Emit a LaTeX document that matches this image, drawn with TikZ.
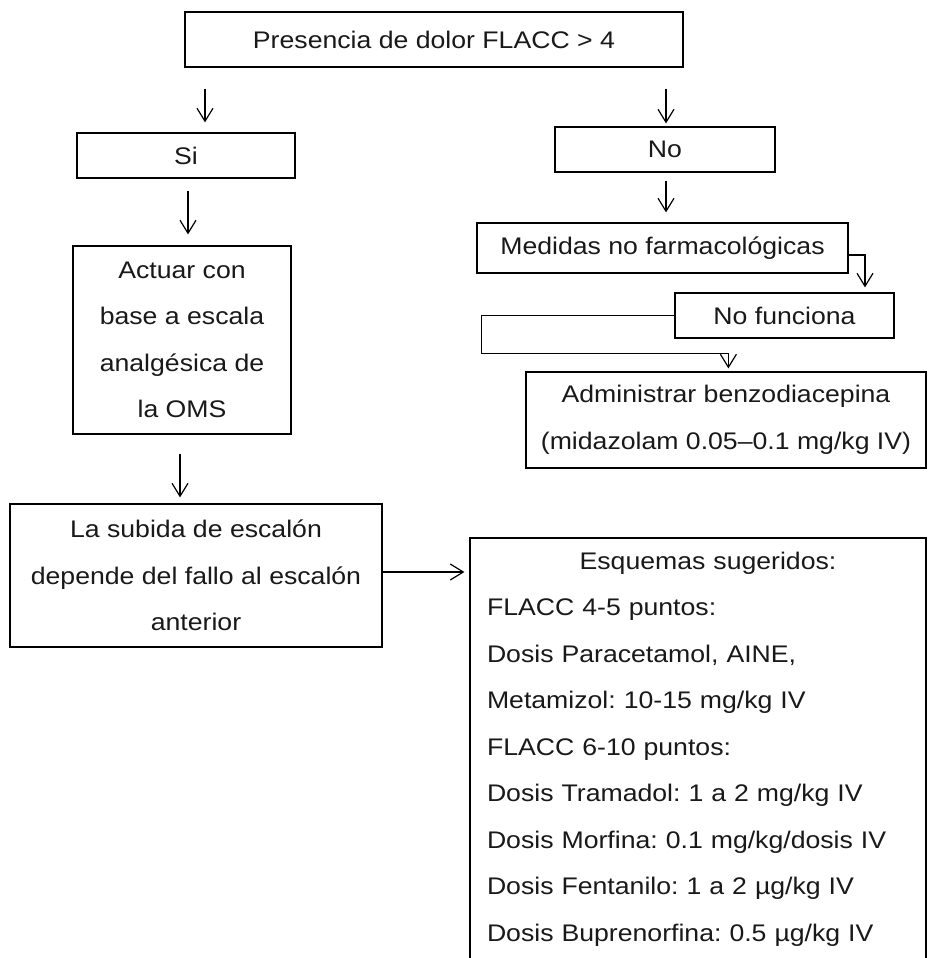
\documentclass[tikz,border=0pt]{standalone}
\usepackage{fontspec}
\setmainfont{Liberation Sans}[FakeStretch=1.11]
\usetikzlibrary{arrows.meta,calc}
\frenchspacing
\begin{document}
\begin{tikzpicture}[x=1pt,y=-1pt,
  box/.style={draw=black,line width=1.2pt,inner sep=0pt,align=center,
    font=\fontsize{24}{46.5}\selectfont\frenchspacing,text=black!90},
  arr/.style={line width=1.2pt,-{Straight Barb[length=13pt,width=16pt]}}]
\useasboundingbox (0,0) rectangle (928,958);
\fill[white] (0,0) rectangle (928,958);
\clip (0,0) rectangle (928,958);

\node[box,minimum width=498pt,minimum height=55pt] (top) at (434,39.5) {Presencia de dolor FLACC > 4};
\node[box,minimum width=218pt,minimum height=45pt] (si) at (186,155.5) {Si};
\node[box,minimum width=220pt,minimum height=45pt] (no) at (665,149.5) {No};
\node[box,minimum width=218pt,minimum height=188pt] (act) at (182,340) {Actuar con\\base a escala\\analgésica de\\la OMS};
\node[box,minimum width=371pt,minimum height=50pt] (med) at (662.5,248) {Medidas no farmacológicas};
\node[box,minimum width=219pt,minimum height=45pt] (nf) at (784.5,315.5) {No funciona};
\node[box,minimum width=400pt,minimum height=96pt] (adm) at (726,420) {Administrar benzodiacepina\\(midazolam 0.05–0.1 mg/kg IV)};
\node[box,minimum width=372pt,minimum height=143pt] (sub) at (196,575.5) {La subida de escalón\\depende del fallo al escalón\\anterior};
\node[box,align=left,text width=422pt,inner xsep=17pt,minimum height=422pt] (esq) at (698,749)
  {\hspace*{10pt}\makebox[422pt][c]{Esquemas sugeridos:}\\
   FLACC 4-5 puntos:\\
   Dosis Paracetamol, AINE,\\
   Metamizol: 10-15 mg/kg IV\\
   FLACC 6-10 puntos:\\
   Dosis Tramadol: 1 a 2 mg/kg IV\\
   Dosis Morfina: 0.1 mg/kg/dosis IV\\
   Dosis Fentanilo: 1 a 2 µg/kg IV\\
   Dosis Buprenorfina: 0.5 µg/kg IV};

\draw[arr,shorten <=21pt,shorten >=10pt] (top.south -| 205,0) -- (si.north -| 205,0);
\draw[arr,shorten <=21pt,shorten >=3pt] (top.south -| 666,0) -- (no.north -| 666,0);
\draw[arr,shorten <=12pt,shorten >=11pt] (si.south -| 188,0) -- (act.north -| 188,0);
\draw[arr,shorten <=8pt,shorten >=10pt] (no.south -| 666,0) -- (med.north -| 666,0);
\draw[arr,shorten <=19pt,shorten >=6pt] (act.south -| 180,0) -- (sub.north -| 180,0);
\draw[arr,shorten >=5pt] (sub.east |- 0,572) -- (esq.west |- 0,572);
\draw[arr] (med.east |- 0,255) -| ($(nf.north)+(80.5,-5)$);
\draw[arr] (nf.west) -| ($(nf.west)+(-193,38)$) -| ($(adm.north west)+(203,-3)$);
\end{tikzpicture}
\end{document}
